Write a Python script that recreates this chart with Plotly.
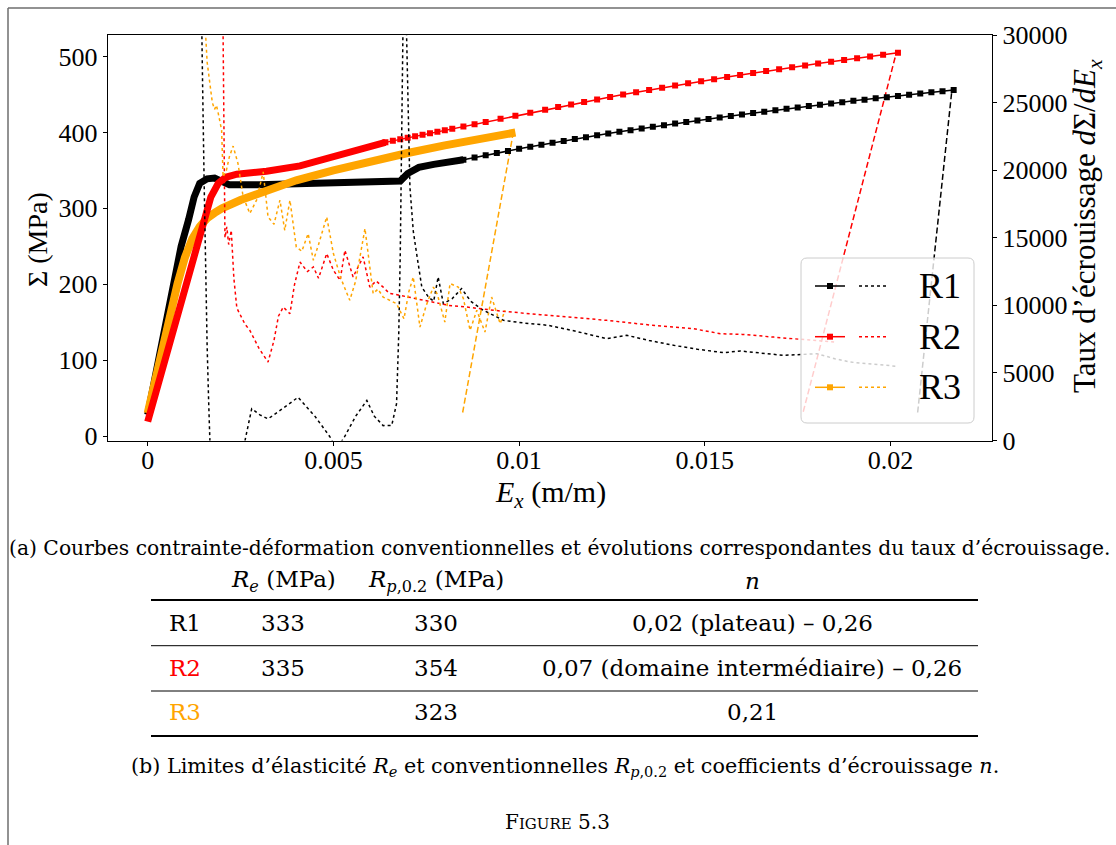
import plotly.graph_objects as go

W, H = 1116, 845

# ---------------- data ----------------
# Stress-strain curves (left axis, MPa)
r1_dense_x = [0, 0.0003, 0.0006, 0.0009, 0.0011, 0.00125, 0.0014, 0.0016, 0.0018, 0.0020, 0.0022,
              0.0030, 0.0040, 0.0050, 0.0060, 0.0068, 0.0070, 0.0073, 0.0077, 0.0081, 0.0085]
r1_dense_y = [28, 105, 185, 250, 285, 315, 333, 339, 340, 335, 331,
              331, 332, 333, 334, 336, 346, 354, 358, 361, 364]
r1_x = [0.0085, 0.0088, 0.0091, 0.0094, 0.0097, 0.0100, 0.0103, 0.0106, 0.0109, 0.0112, 0.0115,
        0.0118, 0.0121, 0.0124, 0.0127, 0.0130, 0.0133, 0.0136, 0.0139, 0.0142, 0.0145, 0.0148,
        0.0151, 0.0154, 0.0157, 0.0160, 0.0163, 0.0166, 0.0169, 0.0172, 0.0175, 0.0178, 0.0181,
        0.0184, 0.0187, 0.0190, 0.0193, 0.0196, 0.0199, 0.0202, 0.0205, 0.0208, 0.0211, 0.0214, 0.0217]
r1_y = [364.0, 367.1, 370.0, 372.9, 375.7, 378.5, 381.2, 383.8, 386.4, 388.9, 391.4,
        393.9, 396.3, 398.6, 400.9, 403.1, 405.4, 407.5, 409.7, 411.8, 413.9, 415.9,
        417.9, 419.9, 421.9, 423.8, 425.7, 427.5, 429.4, 431.2, 433.0, 434.8, 436.5,
        438.3, 440.0, 441.7, 443.3, 445.0, 446.6, 448.2, 449.8, 451.4, 452.9, 454.5, 456.0]

r2_dense_x = [0, 0.0005, 0.0010, 0.0013, 0.0015, 0.0017, 0.0019, 0.0021, 0.0024, 0.0032, 0.0041,
              0.0050, 0.0056, 0.0062, 0.0064]
r2_dense_y = [19, 105, 192, 245, 280, 315, 333, 341, 345, 349, 356, 368, 376, 384, 387]
r2_x = [0.0064, 0.0066, 0.0068, 0.0070, 0.0072, 0.0074, 0.0076, 0.0078, 0.0080, 0.0082, 0.0085,
        0.0088, 0.0091, 0.0095, 0.0099, 0.0103, 0.0107, 0.01105, 0.0114, 0.01175, 0.0121, 0.01245,
        0.0128, 0.01315, 0.0135, 0.01385, 0.0142, 0.01455, 0.0149, 0.01525, 0.0156, 0.01595,
        0.0163, 0.01665, 0.0170, 0.01735, 0.0177, 0.01805, 0.0184, 0.01875, 0.0191, 0.01945,
        0.0198, 0.0202]
r2_y = [387, 389, 391, 393, 395, 397, 399, 401, 403, 405, 408,
        411, 414, 418, 422, 426, 430, 433.5, 436.9, 440.3, 443.6, 446.8,
        450.0, 453.0, 456.1, 459.0, 461.9, 464.8, 467.6, 470.3, 473.0, 475.7,
        478.3, 480.9, 483.4, 485.9, 488.4, 490.8, 493.2, 495.6, 497.9, 500.2,
        502.4, 505.0]

r3_x = [0, 0.0004, 0.0008, 0.0010, 0.0012, 0.0014, 0.0016, 0.0018, 0.0020, 0.0025, 0.0030,
        0.0035, 0.0040, 0.0050, 0.0060, 0.0070, 0.0080, 0.0090, 0.0099]
r3_y = [30, 118, 200, 235, 260, 276, 287, 294, 300, 311, 320,
        329, 337, 350, 362, 373, 383, 392, 400]

# 0.2 % offset lines (left axis)
r1_off_x = [0.02073, 0.02165]
r1_off_y = [31, 455]
r2_off_x = [0.01765, 0.02015]
r2_off_y = [32, 504]
r3_off_x = [0.00848, 0.00984]
r3_off_y = [31, 399]

# Hardening rate dSigma/dEx (right axis)
r1_rate_x = [0.00138, 0.00144, 0.00148, 0.00152, 0.00156, 0.00160, 0.00164, 0.00167, 0.00172,
             0.0021, 0.0025, 0.00262, 0.0028, 0.00302, 0.00324, 0.0036, 0.00405, 0.0045, 0.0049,
             0.0050, 0.00515, 0.00527, 0.0056, 0.0059, 0.0061, 0.00634, 0.00657, 0.0067, 0.00676,
             0.0068, 0.00684, 0.00688, 0.0069, 0.00697, 0.00706, 0.00715, 0.00724, 0.00738,
             0.00756, 0.0077, 0.00782, 0.00796, 0.0082, 0.00845, 0.0087, 0.00904, 0.00958,
             0.0101, 0.01079, 0.0115, 0.01236, 0.0129, 0.0135, 0.01416, 0.0148, 0.01551,
             0.01596, 0.0165, 0.01712, 0.01802, 0.0185, 0.01892, 0.0195, 0.02013]
r1_rate_y = [45000, 31000, 26000, 19000, 12000, 7000, 3000, 0, -4000,
             -8000, -3000, 0, 2350, 1900, 1600, 2300, 3200, 1800, 300,
             -200, -300, 120, 1800, 2960, 1800, 1100, 1110, 2720, 8000,
             13850, 22000, 32000, 45000, 30000, 18760, 15500, 13830, 11350,
             10610, 10300, 12100, 10120, 10500, 11240, 10300, 9630, 8890,
             8700, 8520, 8100, 7530, 7780, 7400, 7040, 6750, 6500,
             6620, 6450, 6300, 6420, 6050, 5800, 5650, 5500]

r2_rate_x = [0.00198, 0.00202, 0.00205, 0.00208, 0.00213, 0.00218, 0.00225, 0.00232, 0.0024,
             0.00248, 0.00262, 0.00275, 0.0030, 0.00324, 0.0034, 0.00352, 0.00365, 0.00383,
             0.00395, 0.0041, 0.0043, 0.00446, 0.0046, 0.00482, 0.0050, 0.00518, 0.00531,
             0.00553, 0.0058, 0.00598, 0.00615, 0.00634, 0.0065, 0.00679, 0.0072, 0.00769,
             0.0081, 0.00859, 0.00949, 0.01057, 0.0115, 0.01236, 0.0135, 0.0147, 0.01542,
             0.0160, 0.01686, 0.0177, 0.01848]
r2_rate_y = [45000, 30000, 20000, 15000, 15800, 14500, 15550, 12000, 9800,
             9380, 8600, 8150, 6800, 5800, 7400, 9200, 9870, 9380,
             11500, 13200, 12500, 12840, 12000, 13830, 12600, 11850, 14070,
             12100, 13580, 11350, 11800, 11350, 10900, 10740, 10500, 10250,
             10000, 9870, 9580, 9310, 9100, 8890, 8550, 8270, 7900,
             7850, 7650, 7450, 7280]

r3_rate_x = [0.00148, 0.00156, 0.0016, 0.00167, 0.00174, 0.0018, 0.00185, 0.0019, 0.00199,
             0.00203, 0.00212, 0.0022, 0.0023, 0.00243, 0.00257, 0.00275, 0.00293, 0.00311,
             0.00324, 0.0034, 0.00356, 0.00369, 0.00383, 0.0040, 0.00415, 0.00432, 0.00446,
             0.0046, 0.00482, 0.0050, 0.0052, 0.00544, 0.0056, 0.00585, 0.00607, 0.0062,
             0.00634, 0.0067, 0.0069, 0.00703, 0.00715, 0.00733, 0.0075, 0.00769, 0.0078,
             0.0080, 0.00814, 0.00836, 0.0085, 0.00868, 0.00886, 0.00908, 0.00926, 0.00949,
             0.00962]
r3_rate_y = [40000, 30000, 28000, 26420, 25000, 24500, 24800, 24200, 22960,
             19500, 20000, 21000, 21780, 20500, 18020, 16800, 17780, 19870,
             16540, 16000, 17780, 15550, 17780, 14320, 14000, 15310, 13330,
             14500, 16540, 13830, 12000, 10370, 11800, 15680, 10870, 11200,
             10610, 10120, 9000, 11000, 12100, 8390, 10000, 11350, 10800,
             8760, 11610, 11350, 10500, 8150, 9630, 8020, 10610, 8640,
             9630]

x_ticks = [0, 0.005, 0.01, 0.015, 0.02]
x_tick_labels = ["0", "0.005", "0.01", "0.015", "0.02"]
y_ticks = [0, 100, 200, 300, 400, 500]
y_tick_labels = ["0", "100", "200", "300", "400", "500"]
y2_ticks = [0, 5000, 10000, 15000, 20000, 25000, 30000]
y2_tick_labels = ["0", "5000", "10000", "15000", "20000", "25000", "30000"]

series_names = ["R1", "R2", "R3"]
series_colors = ["#000000", "#ff0000", "#ffa500"]

table_header = ["<i>R</i><sub><i>e</i></sub> (MPa)", "<i>R</i><sub><i>p</i>,0.2</sub> (MPa)", "<i>n</i>"]
table_re = ["333", "335", ""]
table_rp = ["330", "354", "323"]
table_n = ["0,02 (plateau) – 0,26", "0,07 (domaine intermédiaire) – 0,26", "0,21"]

# ---------------- helpers ----------------
def px(x):
    return x / W

def py(y):
    return 1 - y / H

CM = "Liberation Serif"
DOC = "DejaVu Serif"

fig = go.Figure()

blk, red, org = series_colors

# offset (dashed) lines
for xs, ys, c in [(r3_off_x, r3_off_y, org), (r2_off_x, r2_off_y, red), (r1_off_x, r1_off_y, blk)]:
    fig.add_trace(go.Scatter(x=xs, y=ys, mode="lines",
                             line=dict(color=c, width=1.5, dash="6px,3px"),
                             hoverinfo="skip", showlegend=False))

# stress-strain curves
fig.add_trace(go.Scatter(x=r1_dense_x, y=r1_dense_y, mode="lines",
                         line=dict(color=blk, width=7), showlegend=False))
fig.add_trace(go.Scatter(x=r1_x, y=r1_y, mode="lines+markers",
                         line=dict(color=blk, width=1.5),
                         marker=dict(symbol="square", size=6, color=blk), showlegend=False))
fig.add_trace(go.Scatter(x=r3_x, y=r3_y, mode="lines",
                         line=dict(color=org, width=8), showlegend=False))
fig.add_trace(go.Scatter(x=r2_dense_x, y=r2_dense_y, mode="lines",
                         line=dict(color=red, width=7), showlegend=False))
fig.add_trace(go.Scatter(x=r2_x, y=r2_y, mode="lines+markers",
                         line=dict(color=red, width=1.5),
                         marker=dict(symbol="square", size=6, color=red), showlegend=False))

# hardening rates (right axis)
for xs, ys, c in [(r1_rate_x, r1_rate_y, blk), (r2_rate_x, r2_rate_y, red), (r3_rate_x, r3_rate_y, org)]:
    fig.add_trace(go.Scatter(x=xs, y=ys, mode="lines", yaxis="y2",
                             line=dict(color=c, width=1.5, dash="dot"),
                             showlegend=False))

# ---------------- layout ----------------
L, R, T, B = 107.7, 992.3, 35, 440.5
axfont = dict(family=CM, size=26, color="black")
fig.update_layout(
    width=W, height=H, margin=dict(l=0, r=0, t=0, b=0, pad=0, autoexpand=False),
    paper_bgcolor="white", plot_bgcolor="white", showlegend=False,
    xaxis=dict(domain=[px(L), px(R)], range=[-0.001077, 0.02274], automargin=False,
               tickvals=x_ticks, ticktext=x_tick_labels, ticks="outside", ticklen=4,
               tickcolor="black", showline=True, linecolor="black", linewidth=1, mirror=True,
               showgrid=False, zeroline=False, tickfont=axfont, ticklabelstandoff=-8),
    yaxis=dict(domain=[py(B), py(T)], range=[-5.9, 528.5], tickvals=y_ticks, ticktext=y_tick_labels,
               automargin=False,
               ticks="outside", ticklen=4, tickcolor="black", showline=True, linecolor="black",
               linewidth=1, mirror=True, showgrid=False, zeroline=False, tickfont=axfont),
    yaxis2=dict(overlaying="y", side="right", anchor="x", range=[0, 30000], tickvals=y2_ticks,
                ticktext=y2_tick_labels, automargin=False,
                ticks="outside", ticklen=4, tickcolor="black", showline=True, linecolor="black",
                linewidth=1, showgrid=False, zeroline=False, tickfont=axfont),
)

ann = []
def text(x, y, s, size, family=CM, color="black", xa="center", ya="middle", angle=0):
    ann.append(dict(x=px(x), y=py(y), xref="paper", yref="paper", text=s, showarrow=False,
                    xanchor=xa, yanchor=ya, textangle=angle,
                    font=dict(family=family, size=size, color=color)))

# axis titles
text(37, 240, "Σ (MPa)", 28, angle=-90)
text(550, 494, "<i>E</i><sub><i>x</i></sub> (m/m)", 30)
text(1087, 226, "Taux d’écrouissage <i>d</i>Σ/<i>dE</i><sub><i>x</i></sub>", 31, angle=-90)

shapes = []
# legend box (rounded)
lx0, ly0, lx1, ly1, rr = 801, 258, 974, 423, 6
path = (f"M {px(lx0+rr)},{py(ly0)} L {px(lx1-rr)},{py(ly0)} Q {px(lx1)},{py(ly0)} {px(lx1)},{py(ly0+rr)} "
        f"L {px(lx1)},{py(ly1-rr)} Q {px(lx1)},{py(ly1)} {px(lx1-rr)},{py(ly1)} "
        f"L {px(lx0+rr)},{py(ly1)} Q {px(lx0)},{py(ly1)} {px(lx0)},{py(ly1-rr)} "
        f"L {px(lx0)},{py(ly0+rr)} Q {px(lx0)},{py(ly0)} {px(lx0+rr)},{py(ly0)} Z")
shapes.append(dict(type="path", path=path, xref="paper", yref="paper", layer="above",
                   fillcolor="rgba(255,255,255,0.8)", line=dict(color="#cccccc", width=1)))
rows_y = [286, 336.7, 387.3]
for name, c, yy in zip(series_names, series_colors, rows_y):
    shapes.append(dict(type="line", xref="paper", yref="paper", layer="above",
                       x0=px(815), x1=px(845), y0=py(yy), y1=py(yy), line=dict(color=c, width=1.5)))
    shapes.append(dict(type="rect", xref="paper", yref="paper", layer="above",
                       x0=px(827), x1=px(833), y0=py(yy - 3), y1=py(yy + 3),
                       fillcolor=c, line=dict(width=0)))
    shapes.append(dict(type="line", xref="paper", yref="paper", layer="above",
                       x0=px(859), x1=px(889), y0=py(yy), y1=py(yy),
                       line=dict(color=c, width=1.5, dash="dot")))
    text(917, yy, name, 36, xa="left")

# page frame (top and left edges)
shapes.append(dict(type="line", xref="paper", yref="paper", x0=px(8), x1=1, y0=py(8), y1=py(8),
                   line=dict(color="#6e6e6e", width=1.5)))
shapes.append(dict(type="line", xref="paper", yref="paper", x0=px(8), x1=px(8), y0=py(8), y1=0,
                   line=dict(color="#6e6e6e", width=1.5)))

# caption (a)
text(559, 548, "(a) Courbes contrainte-déformation conventionnelles et évolutions correspondantes du taux d’écrouissage.", 20.3, family=DOC)

# table
TX0, TX1 = 151, 978
for yy, wdt in [(600, 2), (645.7, 1), (691, 1), (736, 2)]:
    shapes.append(dict(type="line", xref="paper", yref="paper", x0=px(TX0), x1=px(TX1),
                       y0=py(yy), y1=py(yy), line=dict(color="black", width=wdt)))
col_x = [283, 436, 752]
for cx, h in zip(col_x, table_header):
    text(cx, 581, h, 23, family=DOC)
row_centers = [623, 668, 712]
for i, yy in enumerate(row_centers):
    text(167, yy, series_names[i], 23, family=DOC, color=series_colors[i], xa="left")
    text(col_x[0], yy, table_re[i], 23, family=DOC)
    text(col_x[1], yy, table_rp[i], 23, family=DOC)
    text(col_x[2], yy, table_n[i], 23, family=DOC)

# caption (b)
text(565, 767, "(b) Limites d’élasticité <i>R</i><sub><i>e</i></sub> et conventionnelles "
     "<i>R</i><sub><i>p</i>,0.2</sub> et coefficients d’écrouissage <i>n</i>.", 20.7, family=DOC)
text(557, 822, "F<span style=\"font-size:15px\">IGURE</span> 5.3", 20, family=DOC)

fig.update_layout(annotations=ann, shapes=shapes)

post = ("document.documentElement.style.margin='0';document.documentElement.style.overflow='hidden';"
        "document.body.style.margin='0';document.body.style.padding='0';document.body.style.overflow='hidden';"
        "var gd=document.getElementById('{plot_id}');gd.style.position='absolute';"
        "gd.style.left='0px';gd.style.top='0px';")
fig.write_html("out.html", post_script=post, config={"displayModeBar": False})
